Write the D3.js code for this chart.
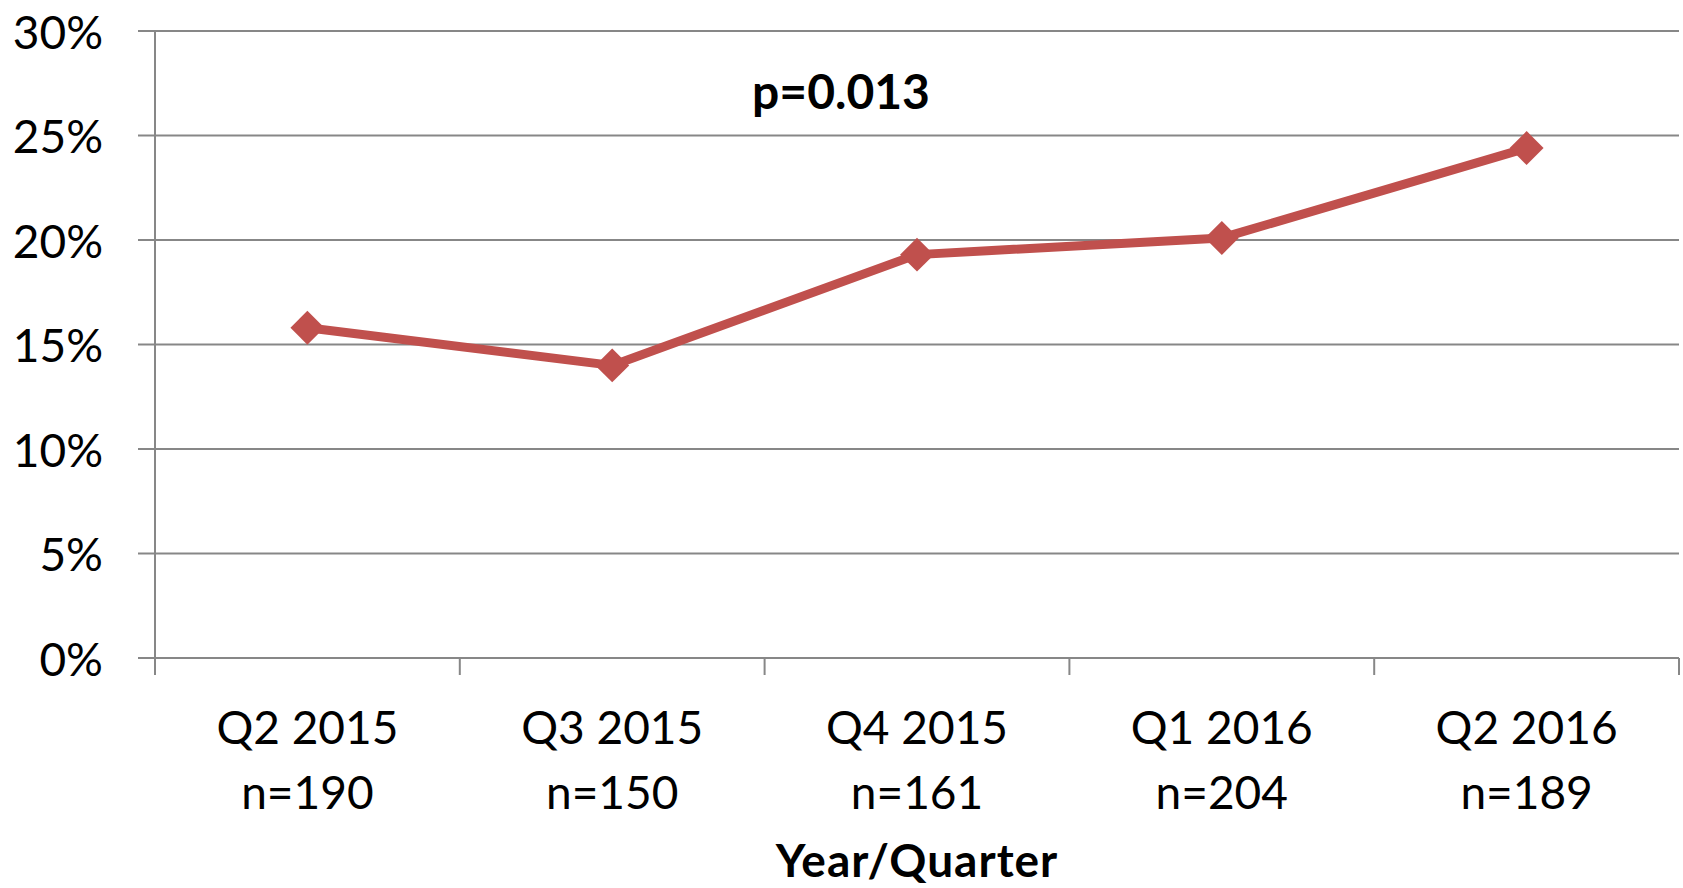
<!DOCTYPE html>
<html>
<head>
<meta charset="utf-8">
<script src="https://cdn.jsdelivr.net/npm/d3@7"></script>
<style>
  html, body { margin: 0; padding: 0; background: #fff; }
  svg { display: block; }
  text { font-family: Lato, "Open Sans", sans-serif; fill: #000; }
</style>
</head>
<body>
<svg id="chart" width="1683" height="888"></svg>
<script>
// ---- data ----
const quarters = ["Q2 2015", "Q3 2015", "Q4 2015", "Q1 2016", "Q2 2016"];
const sampleSizes = ["n=190", "n=150", "n=161", "n=204", "n=189"];
const rates = [0.158, 0.140, 0.193, 0.201, 0.244];
const yTicks = [0, 0.05, 0.10, 0.15, 0.20, 0.25, 0.30];
const annotation = "p=0.013";
const xTitle = "Year/Quarter";

// ---- layout ----
const plotLeft = 155, plotRight = 1679, plotTop = 31, plotBottom = 658;
const svg = d3.select("#chart");

const x = d3.scaleBand().domain(quarters).range([plotLeft, plotRight]).padding(0);
const y = d3.scaleLinear().domain([0, 0.30]).range([plotBottom, plotTop]);

const gridColor = "#878787";
const lineColor = "#C0504D";

// gridlines
svg.append("g").selectAll("line").data(yTicks).join("line")
  .attr("x1", plotLeft - 17).attr("x2", plotRight)
  .attr("y1", d => y(d)).attr("y2", d => y(d))
  .attr("stroke", gridColor).attr("stroke-width", 2);

// y axis line
svg.append("line").attr("x1", plotLeft).attr("x2", plotLeft)
  .attr("y1", plotTop).attr("y2", plotBottom + 17)
  .attr("stroke", gridColor).attr("stroke-width", 2);

// x ticks at band boundaries
const bounds = quarters.map(q => x(q)).concat([x(quarters[quarters.length - 1]) + x.bandwidth()]);
svg.append("g").selectAll("line").data(bounds.slice(1)).join("line")
  .attr("x1", d => d).attr("x2", d => d)
  .attr("y1", plotBottom).attr("y2", plotBottom + 17)
  .attr("stroke", gridColor).attr("stroke-width", 2);

// y tick labels
svg.append("g").selectAll("text").data(yTicks).join("text")
  .attr("x", 103).attr("y", d => y(d))
  .attr("text-anchor", "end").attr("dominant-baseline", "central")
  .attr("font-size", 46)
  .text(d => d3.format(".0%")(d));

// x labels
const xl = svg.append("g");
xl.selectAll("text.q").data(quarters).join("text").attr("class", "q")
  .attr("x", d => x(d) + x.bandwidth() / 2).attr("y", 744)
  .attr("text-anchor", "middle").attr("font-size", 46)
  .text(d => d);
xl.selectAll("text.n").data(quarters).join("text").attr("class", "n")
  .attr("x", d => x(d) + x.bandwidth() / 2).attr("y", 809)
  .attr("text-anchor", "middle").attr("font-size", 46)
  .text((d, i) => sampleSizes[i]);

// x title
svg.append("text").attr("x", 917).attr("y", 877)
  .attr("text-anchor", "middle").attr("font-size", 46).attr("font-weight", "bold")
  .attr("letter-spacing", 1)
  .text(xTitle);

// annotation
svg.append("text").attr("x", 841).attr("y", 109)
  .attr("text-anchor", "middle").attr("font-size", 48).attr("font-weight", "bold")
  .text(annotation);

// line
const pts = quarters.map((q, i) => [x(q) + x.bandwidth() / 2, y(rates[i])]);
svg.append("path")
  .attr("d", d3.line()(pts))
  .attr("fill", "none").attr("stroke", lineColor).attr("stroke-width", 9)
  .attr("stroke-linejoin", "round");

// diamond markers
const sym = d3.symbol().type(d3.symbolSquare).size(24 * 24);
svg.append("g").selectAll("path").data(pts).join("path")
  .attr("transform", d => `translate(${d[0]},${d[1]}) rotate(45)`)
  .attr("d", sym)
  .attr("fill", lineColor);
</script>
</body>
</html>
